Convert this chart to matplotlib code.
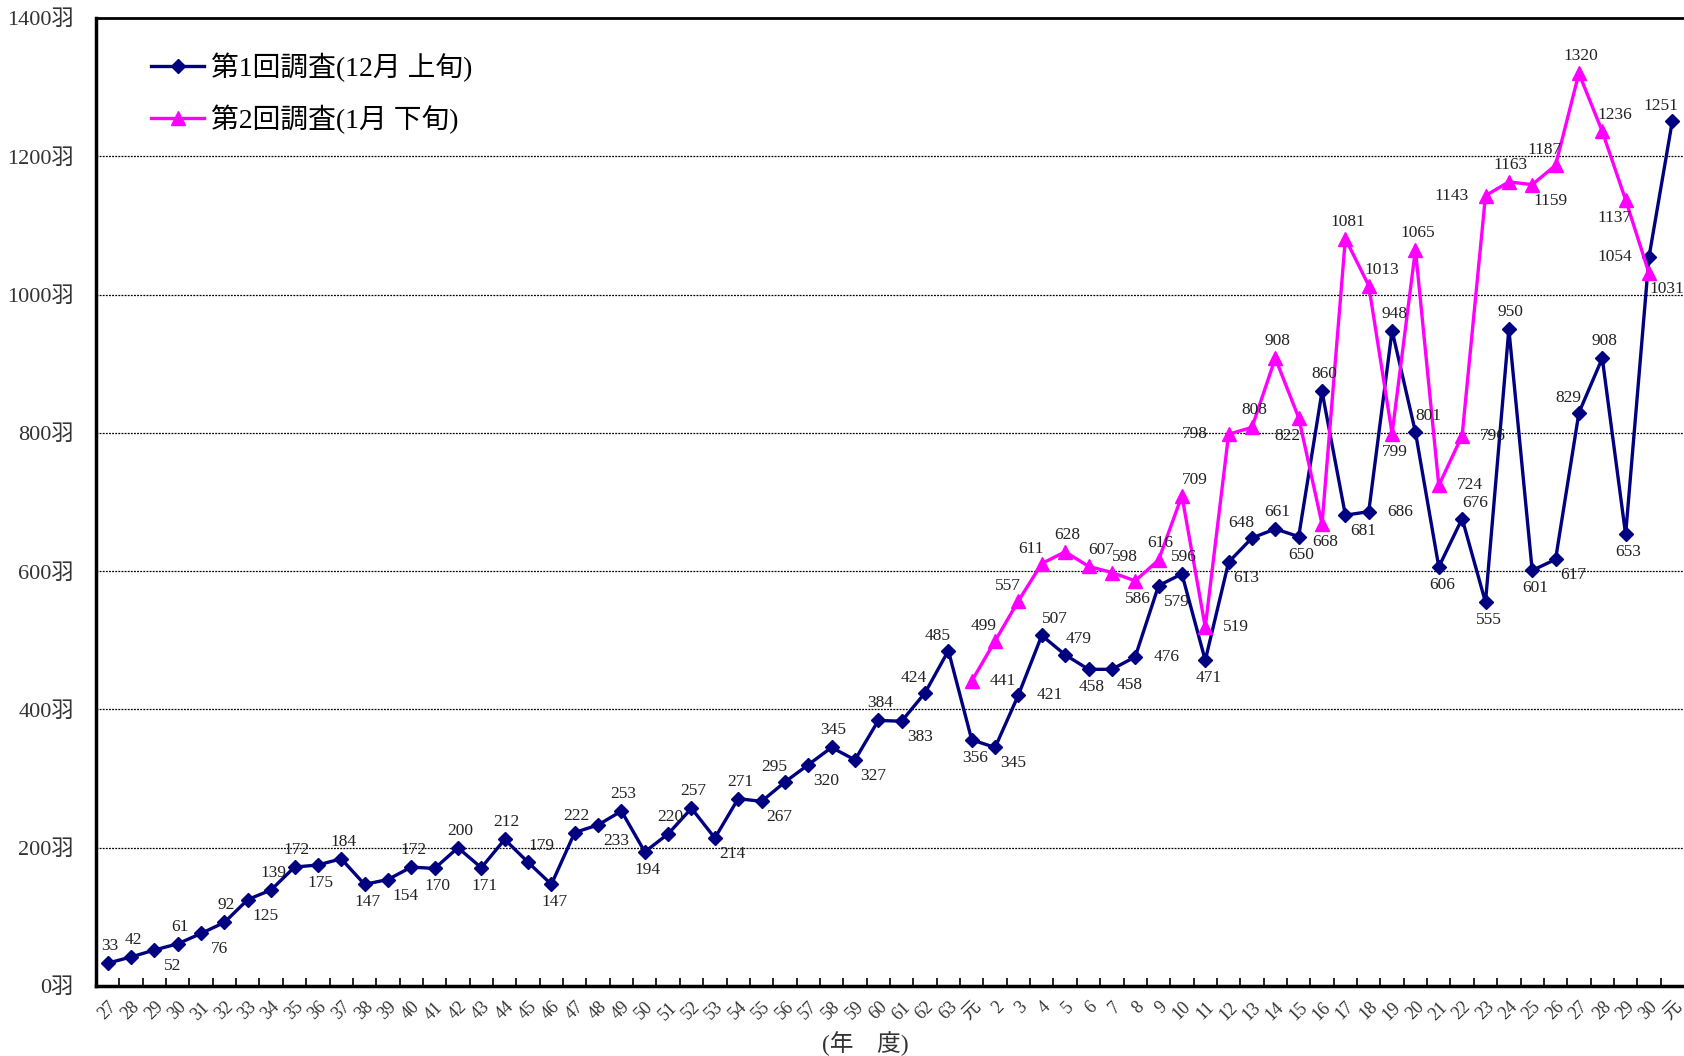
import numpy as np
import matplotlib
matplotlib.use("Agg")
import matplotlib.pyplot as plt
from matplotlib.ticker import FixedLocator

plt.rcParams['font.family'] = ['Liberation Serif', 'Noto Sans CJK JP', 'DejaVu Sans']

# 年度（昭和27年度〜令和元年度）
years = [str(y) for y in range(27, 64)] + ["元"] + [str(y) for y in range(2, 31)] + ["元"]

# 第1回調査（12月上旬）
survey1 = [33, 42, 52, 61, 76, 92, 125, 139, 172, 175, 184, 147, 154, 172, 170,
           200, 171, 212, 179, 147, 222, 233, 253, 194, 220, 257, 214, 271, 267,
           295, 320, 345, 327, 384, 383, 424, 485,
           356, 345, 421, 507, 479, 458, 458, 476, 579, 596, 471, 613, 648, 661,
           650, 860, 681, 686, 948, 801, 606, 676, 555, 950, 601, 617, 829, 908,
           653, 1054, 1251]

# 第2回調査（1月下旬）平成元年度〜平成30年度
survey2 = [441, 499, 557, 611, 628, 607, 598, 586, 616, 709, 519, 798, 808, 908,
           822, 668, 1081, 1013, 799, 1065, 724, 796, 1143, 1163, 1159, 1187,
           1320, 1236, 1137, 1031]
survey2_start = years.index("元")

# ラベルの位置
pos1 = ['a', 'a', 'br', 'a', 'br', 'a', 'br', 'a', 'a', 'b', 'a', 'b', 'br', 'a',
        'b', 'a', 'b', 'a', 'ar', 'b', 'a', 'br', 'a', 'b', 'a', 'a', 'br', 'a',
        'br', 'al', 'br', 'a', 'br', 'a', 'br', 'al', 'al',
        'b', 'br', 'r', 'ar', 'ar', 'b', 'br', 'r', 'br', 'a', 'b', 'br', 'al',
        'a', 'b', 'a', 'br', 'r', 'a', 'ar', 'b', 'ar', 'b', 'a', 'b', 'br',
        'al', 'a', 'b', 'l', 'al']
pos2 = ['r', 'al', 'al', 'al', 'a', 'ar', 'ar', 'b', 'a', 'ar', 'r', 'l', 'a',
        'a', 'bl', 'b', 'a', 'ar', 'b', 'a', 'r', 'r', 'l', 'a', 'br', 'al',
        'a', 'ar', 'bl', 'br']
offsets = {'a': (2, 17), 'b': (3, -18), 'r': (31, 0), 'l': (-34, 0),
           'ar': (13, 16), 'al': (-11, 15), 'br': (18, -16), 'bl': (-11, -18)}

fig = plt.figure(figsize=(16.84, 10.56), dpi=100)
ax = fig.add_axes([96 / 1684, 70 / 1056, 1588 / 1684, 968 / 1056])

x1 = np.arange(len(survey1))
x2 = np.arange(survey2_start, survey2_start + len(survey2))

ax.plot(x1, survey1, color='#000080', lw=2.4, marker='D', ms=7.5,
        label='第1回調査(12月 上旬)', zorder=3)
ax.plot(x2, survey2, color='#FF00FF', lw=2.4, marker='^', ms=10,
        label='第2回調査(1月 下旬)', zorder=3)

for xi, v, p in zip(x1, survey1, pos1):
    ax.annotate(str(v), (xi, v), xytext=offsets[p], textcoords='offset pixels',
                ha='center', va='center', fontsize=12.5, color='#222222', zorder=4)
for xi, v, p in zip(x2, survey2, pos2):
    ax.annotate(str(v), (xi, v), xytext=offsets[p], textcoords='offset pixels',
                ha='center', va='center', fontsize=12.5, color='#222222', zorder=4)

ax.set_xlim(-0.5, len(years) - 0.5)
ax.set_ylim(0, 1400)

yt = list(range(0, 1401, 200))
ax.set_yticks(yt)
ax.set_yticklabels([f"{v}羽" for v in yt], fontsize=16, color='#333333')
ax.tick_params(axis='y', length=0, pad=16)
for v in yt[1:-1]:
    ax.axhline(v, color='black', lw=0.9, ls=(0, (1.5, 1)), zorder=1)

ax.set_xticks(x1)
ax.set_xticklabels(years, rotation=45, ha='right', va='top',
                   rotation_mode='anchor', fontsize=13, color='#333333')
ax.tick_params(axis='x', which='major', length=0, pad=9)
ax.xaxis.set_minor_locator(FixedLocator(np.arange(0.5, len(years) - 0.5, 1)))
ax.tick_params(axis='x', which='minor', direction='in', length=6, width=1.2)

for s in ['left', 'bottom']:
    ax.spines[s].set_linewidth(2.5)
ax.spines['top'].set_linewidth(2)
ax.spines['right'].set_visible(False)

fig.text(865 / 1684, 0.012, '(年　度)', ha='center', va='center', fontsize=17,
         color='#333333')

ax.legend(loc='upper left', bbox_to_anchor=(0.019, 0.99), frameon=False,
          fontsize=20, handlelength=1.9, labelspacing=0.8, handletextpad=0.25)

fig.savefig('out.png', dpi=100)
